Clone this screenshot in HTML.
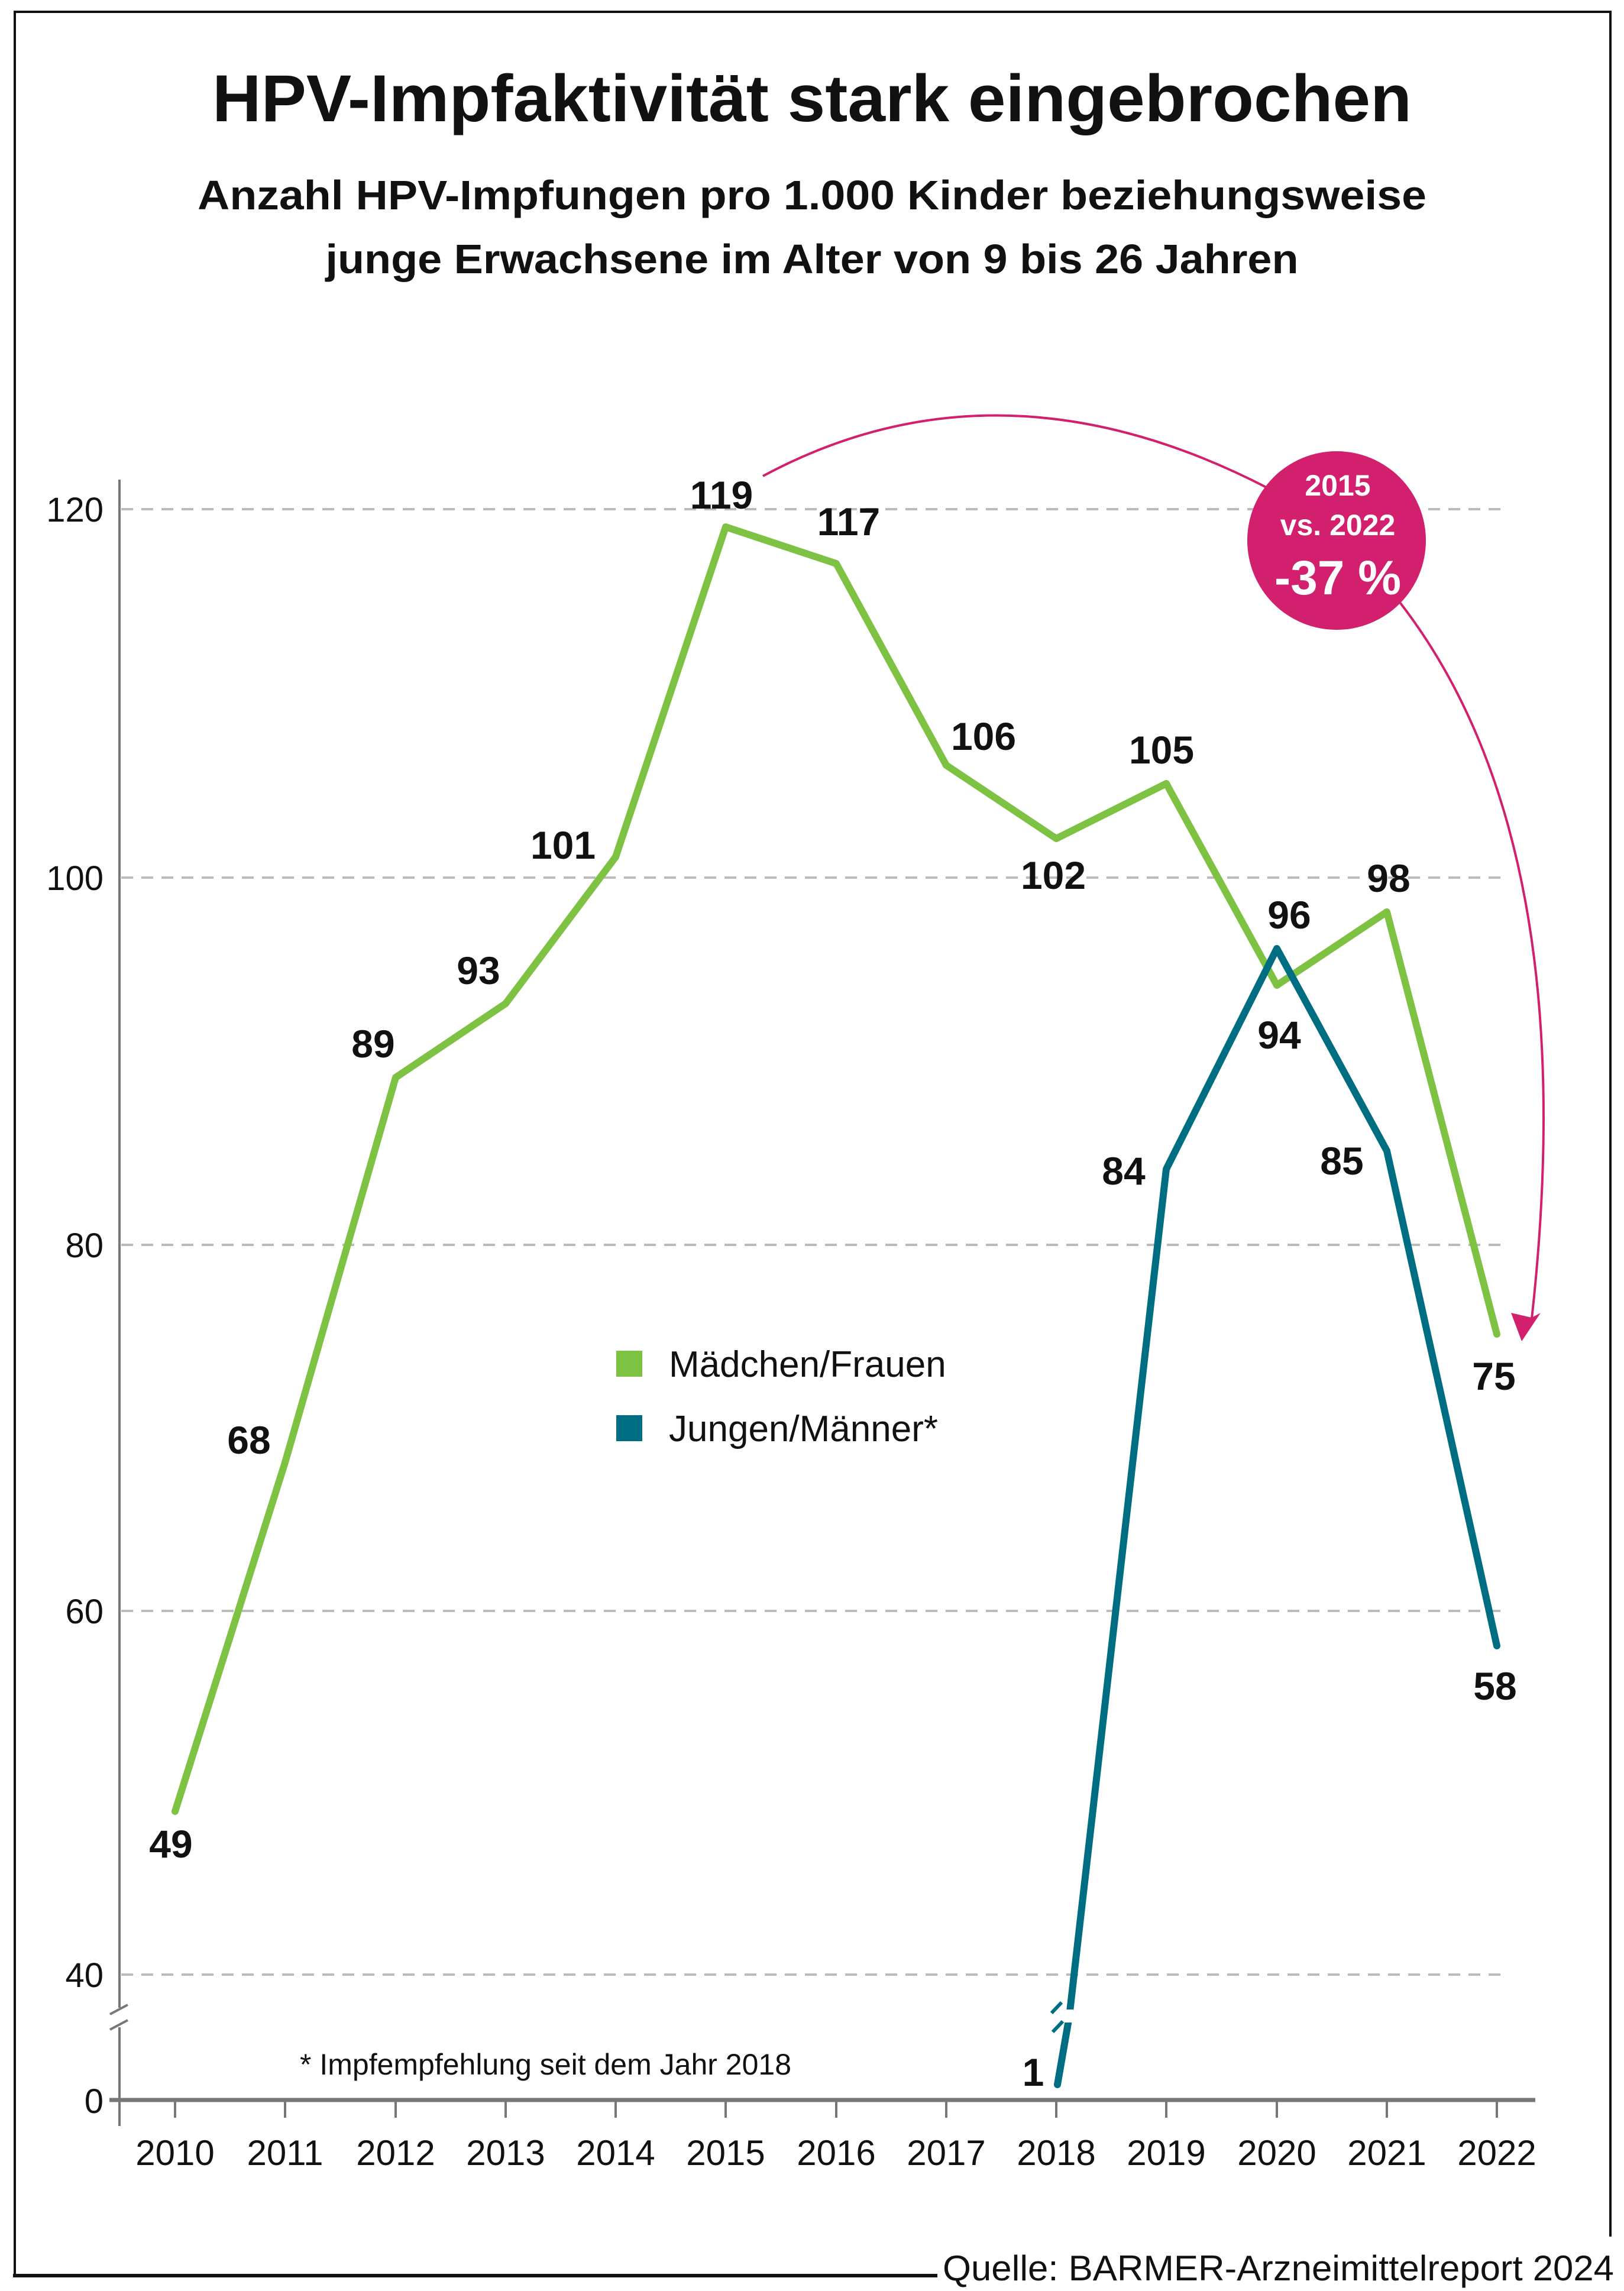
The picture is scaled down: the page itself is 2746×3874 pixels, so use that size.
<!DOCTYPE html>
<html><head><meta charset="utf-8"><style>
html,body{margin:0;padding:0;background:#fff}
svg{display:block}
text{font-family:"Liberation Sans",sans-serif}
</style></head><body>
<svg width="2746" height="3874" viewBox="0 0 2746 3874" xmlns="http://www.w3.org/2000/svg">
<path d="M25 3848 V20 H2723 V3782" fill="none" stroke="#111" stroke-width="4"/>
<line x1="22" y1="3848" x2="1585" y2="3848" stroke="#111" stroke-width="6"/>
<text x="2729" y="3856" font-size="60" text-anchor="end" textLength="1135" lengthAdjust="spacingAndGlyphs" fill="#111">Quelle: BARMER-Arzneimittelreport 2024</text>

<text x="1373" y="205" font-size="112" font-weight="bold" text-anchor="middle" textLength="2028" lengthAdjust="spacingAndGlyphs" fill="#111">HPV-Impfaktivität stark eingebrochen</text>
<text x="1373" y="354" font-size="70" font-weight="bold" text-anchor="middle" textLength="2078" lengthAdjust="spacingAndGlyphs" fill="#111">Anzahl HPV-Impfungen pro 1.000 Kinder beziehungsweise</text>
<text x="1373" y="462" font-size="70" font-weight="bold" text-anchor="middle" textLength="1645" lengthAdjust="spacingAndGlyphs" fill="#111">junge Erwachsene im Alter von 9 bis 26 Jahren</text>

<g stroke="#bbb" stroke-width="4" stroke-dasharray="20 14">
<line x1="205" y1="861" x2="2545" y2="861"/>
<line x1="205" y1="1484" x2="2545" y2="1484"/>
<line x1="205" y1="2105" x2="2545" y2="2105"/>
<line x1="205" y1="2724" x2="2545" y2="2724"/>
<line x1="205" y1="3339" x2="2545" y2="3339"/>
</g>
<g font-size="58" fill="#111" text-anchor="end">
<text x="175" y="882">120</text>
<text x="175" y="1505">100</text>
<text x="175" y="2126">80</text>
<text x="175" y="2745">60</text>
<text x="175" y="3360">40</text>
<text x="175" y="3573">0</text>
</g>
<line x1="202" y1="811" x2="202" y2="3395" stroke="#777" stroke-width="4"/>
<line x1="202" y1="3428" x2="202" y2="3595" stroke="#777" stroke-width="4"/>
<line x1="186" y1="3406" x2="216" y2="3390" stroke="#777" stroke-width="4"/>
<line x1="186" y1="3432" x2="216" y2="3416" stroke="#777" stroke-width="4"/>
<line x1="185" y1="3551" x2="2596" y2="3551" stroke="#777" stroke-width="7"/>
<g stroke="#777" stroke-width="4">
<line x1="296" y1="3551" x2="296" y2="3581"/><line x1="482" y1="3551" x2="482" y2="3581"/>
<line x1="669" y1="3551" x2="669" y2="3581"/><line x1="855" y1="3551" x2="855" y2="3581"/>
<line x1="1041" y1="3551" x2="1041" y2="3581"/><line x1="1227" y1="3551" x2="1227" y2="3581"/>
<line x1="1414" y1="3551" x2="1414" y2="3581"/><line x1="1600" y1="3551" x2="1600" y2="3581"/>
<line x1="1786" y1="3551" x2="1786" y2="3581"/><line x1="1972" y1="3551" x2="1972" y2="3581"/>
<line x1="2159" y1="3551" x2="2159" y2="3581"/><line x1="2345" y1="3551" x2="2345" y2="3581"/>
<line x1="2531" y1="3551" x2="2531" y2="3581"/>
</g>
<g font-size="60" fill="#111" text-anchor="middle">
<text x="296" y="3661">2010</text><text x="482" y="3661">2011</text><text x="669" y="3661">2012</text>
<text x="855" y="3661">2013</text><text x="1041" y="3661">2014</text><text x="1227" y="3661">2015</text>
<text x="1414" y="3661">2016</text><text x="1600" y="3661">2017</text><text x="1786" y="3661">2018</text>
<text x="1972" y="3661">2019</text><text x="2159" y="3661">2020</text><text x="2345" y="3661">2021</text>
<text x="2531" y="3661">2022</text>
</g>

<polyline fill="none" stroke="#7DC242" stroke-width="12" stroke-linejoin="round" stroke-linecap="round"
points="296,3063 482,2473 669,1822 855,1697 1041,1449 1227,891 1414,953 1600,1294 1786,1418 1972,1325 2159,1666 2345,1542 2531,2256"/>
<polyline fill="none" stroke="#006E82" stroke-width="12" stroke-linejoin="round" stroke-linecap="round"
points="1788,3525 1808,3410 1972,1977 2159,1604 2345,1946 2531,2783"/>
<rect x="1775" y="3398" width="40" height="22" fill="#fff"/>
<line x1="1778" y1="3404" x2="1795" y2="3386" stroke="#006E82" stroke-width="6"/>
<line x1="1780" y1="3436" x2="1797" y2="3418" stroke="#006E82" stroke-width="6"/>

<rect x="1042" y="2284" width="44" height="44" fill="#7DC242"/>
<rect x="1042" y="2393" width="44" height="44" fill="#006E82"/>
<text x="1131" y="2328" font-size="62" fill="#111">Mädchen/Frauen</text>
<text x="1131" y="2437" font-size="62" fill="#111">Jungen/Männer*</text>
<text x="507" y="3508" font-size="50" fill="#111">* Impfempfehlung seit dem Jahr 2018</text>

<g font-size="66" font-weight="bold" fill="#111" text-anchor="middle">
<text x="289" y="3141">49</text><text x="421" y="2458">68</text><text x="631" y="1788">89</text>
<text x="809" y="1664">93</text><text x="952" y="1452">101</text><text x="1220" y="860">119</text>
<text x="1435" y="905">117</text><text x="1663" y="1268">106</text><text x="1781" y="1503">102</text>
<text x="1964" y="1291">105</text><text x="2163" y="1773">94</text><text x="2180" y="1570">96</text>
<text x="2348" y="1508">98</text><text x="2526" y="2350">75</text><text x="1900" y="2003">84</text>
<text x="2269" y="1986">85</text><text x="2528" y="2874">58</text><text x="1747" y="3527">1</text>
</g>

<path d="M1290 805 Q1690 590 2145 826" fill="none" stroke="#D21F6E" stroke-width="4"/>
<path d="M2365 1016 Q2680 1420 2590 2230" fill="none" stroke="#D21F6E" stroke-width="4"/>
<polygon points="2573,2268 2555,2220 2590,2228 2605,2220" fill="#D21F6E"/>
<circle cx="2260" cy="914" r="151" fill="#D21F6E"/>
<g fill="#fff" font-weight="bold" text-anchor="middle">
<text x="2262" y="838" font-size="50">2015</text>
<text x="2262" y="905" font-size="50">vs. 2022</text>
<text x="2262" y="1005" font-size="82">-37 %</text>
</g>
</svg>
</body></html>
